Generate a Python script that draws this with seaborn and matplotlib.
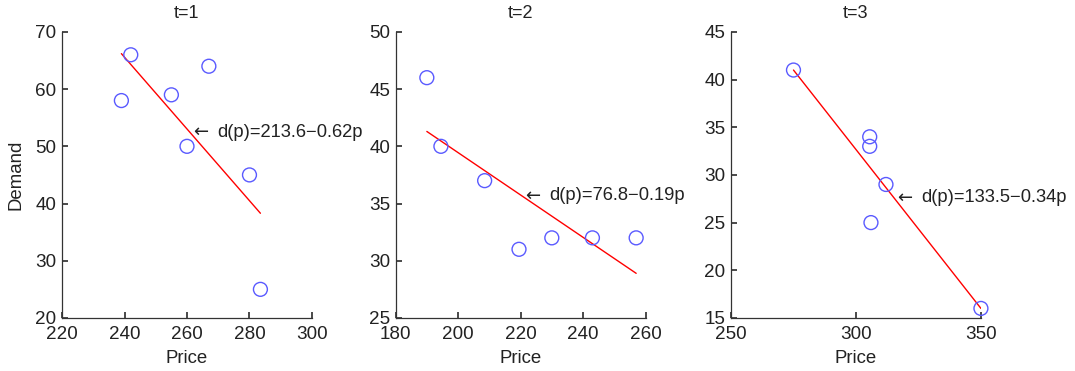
import numpy as np
import pandas as pd
import seaborn as sns
import matplotlib.pyplot as plt
from matplotlib.transforms import offset_copy

# observed (price, demand) pairs per period
price_t1 = [239, 242, 255, 260, 267, 280, 283.5]
demand_t1 = [58, 66, 59, 50, 64, 45, 25]
price_t2 = [190, 194.5, 208.5, 219.5, 230, 243, 257]
demand_t2 = [46, 40, 37, 31, 32, 32, 32]
price_t3 = [275, 305.5, 305.5, 306, 312, 350]
demand_t3 = [41, 34, 33, 25, 29, 16]

# fitted line end points as drawn
fit_x = [[239, 283.5], [190, 257], [275, 350]]
fit_y = [[66.2, 38.3], [41.3, 28.9], [41, 16]]

titles = ["t=1", "t=2", "t=3"]
labels = ["d(p)=213.6\u22120.62p", "d(p)=76.8\u22120.19p", "d(p)=133.5\u22120.34p"]
label_pos = [(262, 52.5), (221.4, 35.7), (316.4, 27.6)]

xlims = [(220, 300), (180, 260), (250, 350)]
ylims = [(20, 70), (25, 50), (15, 45)]
xticks = [np.arange(220, 301, 20), np.arange(180, 261, 20), np.arange(250, 351, 50)]
yticks = [np.arange(20, 71, 10), np.arange(25, 51, 5), np.arange(15, 46, 5)]

sns.set_theme(style="ticks")
plt.rcParams["font.family"] = ["Liberation Sans", "DejaVu Sans"]

fig = plt.figure(figsize=(10.75, 3.71), dpi=100)
lefts = [0.0577, 0.368, 0.680]
prices = [price_t1, price_t2, price_t3]
demands = [demand_t1, demand_t2, demand_t3]

for i in range(3):
    ax = fig.add_axes([lefts[i], 0.143, 0.2325, 0.771])
    df = pd.DataFrame({"Price": prices[i], "Demand": demands[i]})
    sns.scatterplot(data=df, x="Price", y="Demand", ax=ax, s=100,
                    facecolors="none", edgecolor="#5a5aff", linewidth=1.0,
                    zorder=3, clip_on=False)
    line = pd.DataFrame({"Price": fit_x[i], "Demand": fit_y[i]})
    sns.lineplot(data=line, x="Price", y="Demand", ax=ax, color="red",
                 linewidth=1.0, zorder=2)
    # arrow glyph and the fitted demand formula
    ax.text(label_pos[i][0], label_pos[i][1], "\u2190", fontsize=13,
            va="center", ha="left", family=["DejaVu Sans"], color="#222222")
    tr = offset_copy(ax.transData, fig=fig, x=17.3, y=0, units="points")
    ax.text(label_pos[i][0], label_pos[i][1], labels[i], transform=tr,
            fontsize=13.2, va="center", ha="left", color="#222222")
    ax.set_xlim(*xlims[i])
    ax.set_ylim(*ylims[i])
    ax.set_xticks(xticks[i])
    ax.set_yticks(yticks[i])
    ax.set_title(titles[i], fontsize=13, pad=10, color="#222222")
    ax.set_xlabel("Price", fontsize=13.4, labelpad=5, color="#222222")
    ax.set_ylabel("Demand" if i == 0 else "", fontsize=13.4, labelpad=8,
                  color="#222222")
    ax.tick_params(direction="in", length=4, labelsize=13.6, color="#333333",
                   labelcolor="#222222")
    ax.tick_params(axis="x", pad=6)
    ax.tick_params(axis="y", pad=4)
    for s in ["top", "right"]:
        ax.spines[s].set_visible(False)
    for s in ["left", "bottom"]:
        ax.spines[s].set_linewidth(0.9)
        ax.spines[s].set_color("#333333")

fig.savefig("out.png", dpi=100, facecolor="white")
